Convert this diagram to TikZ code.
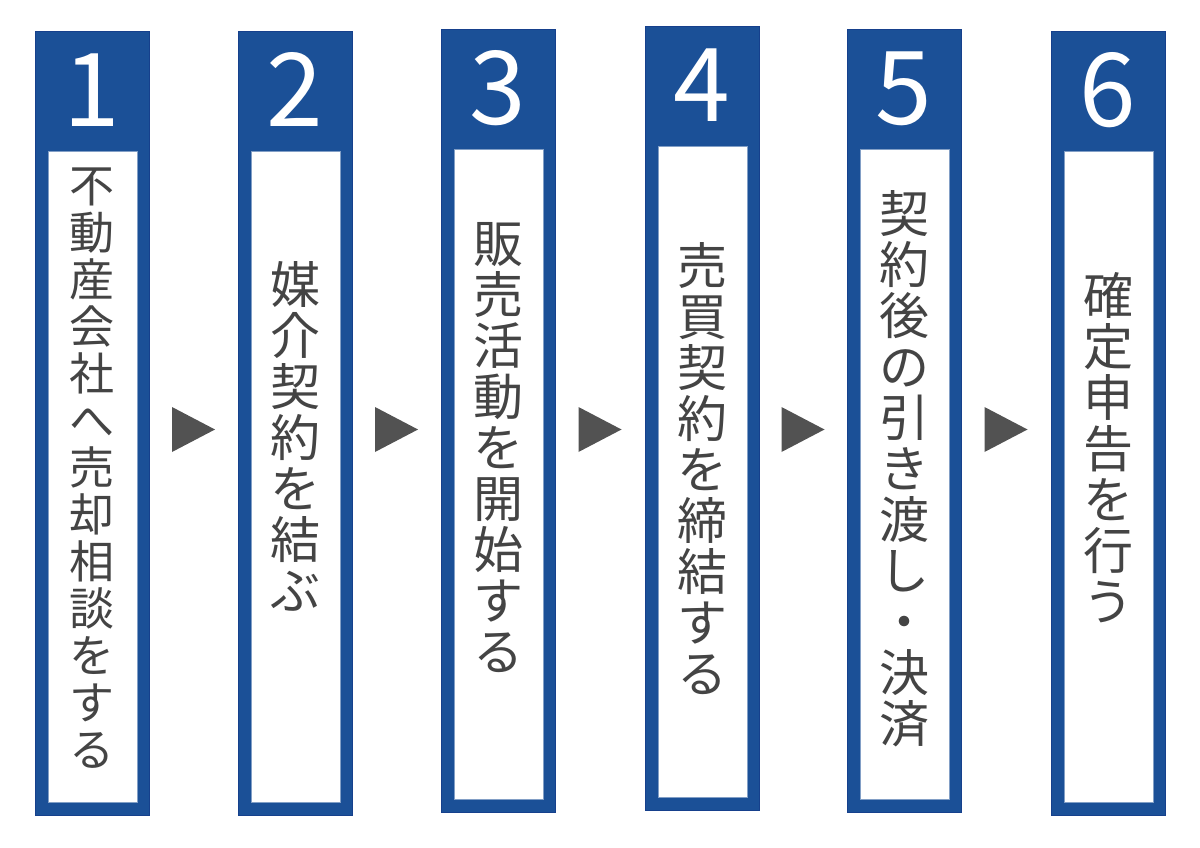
\documentclass[tikz,border=0pt]{standalone}
\usepackage{fontspec}
\newfontfamily\jp{Noto Sans CJK JP}
\definecolor{stepblue}{RGB}{27,80,151}
\definecolor{stepedge}{RGB}{22,64,140}
\definecolor{txtgray}{RGB}{68,68,68}
\definecolor{arrowgray}{RGB}{82,82,82}
\tikzset{
  colbox/.style={fill=stepblue, draw=stepedge, line width=0.8pt, inner sep=0pt, minimum width=114pt, anchor=north west},
  innerbox/.style={fill=white, draw=stepblue!55, line width=0.5pt, inner sep=0pt, minimum width=89pt, anchor=north west},
  numtext/.style={text=white, font=\jp\fontsize{102}{102}\selectfont, anchor=base, inner sep=0pt},
  steptext/.style={text=txtgray, align=center, inner sep=0pt},
  arrowtri/.style={fill=arrowgray},
}
\newcommand\mkcol[9]{%
  \node[colbox, minimum height={#4-#3}] (c#1) at (#2,#3) {};
  \node[innerbox, minimum height={#4-#3-133}] (w#1) at ({#2+13},{#3+120}) {};
  \node[numtext] (n#1) at ({#2+57},{#3+96}) {#5};
  \node[steptext, font=\jp\fontsize{#7}{#8}\selectfont] (t#1) at ({#2+57},#9) {#6};
}
\begin{document}
\begin{tikzpicture}[x=1pt,y=-1pt]
  \useasboundingbox (0,0) rectangle (1200,848);
  \mkcol{1}{35}{31}{815}{1}{不\\動\\産\\会\\社\\へ\\売\\却\\相\\談\\を\\す\\る}{45}{47}{468}
  \mkcol{2}{238}{31}{815}{2}{媒\\介\\契\\約\\を\\結\\ぶ}{50}{51}{436}
  \mkcol{3}{441}{29}{812}{3}{販\\売\\活\\動\\を\\開\\始\\す\\る}{50}{51}{448}
  \mkcol{4}{645}{26}{810}{4}{売\\買\\契\\約\\を\\締\\結\\す\\る}{50}{51}{469}
  \mkcol{5}{847}{29}{812}{5}{契\\約\\後\\の\\引\\き\\渡\\し\\・\\決\\済}{50}{51}{469}
  \mkcol{6}{1051}{31}{815}{6}{確\\定\\申\\告\\を\\行\\う}{50}{51}{448}
  \foreach \m in {193.5,396.5,600,803,1006}{
    \fill[arrowtri] ({\m-21.5},407) -- ({\m+21.5},429.5) -- ({\m-21.5},452) -- cycle;
  }
\end{tikzpicture}
\end{document}
